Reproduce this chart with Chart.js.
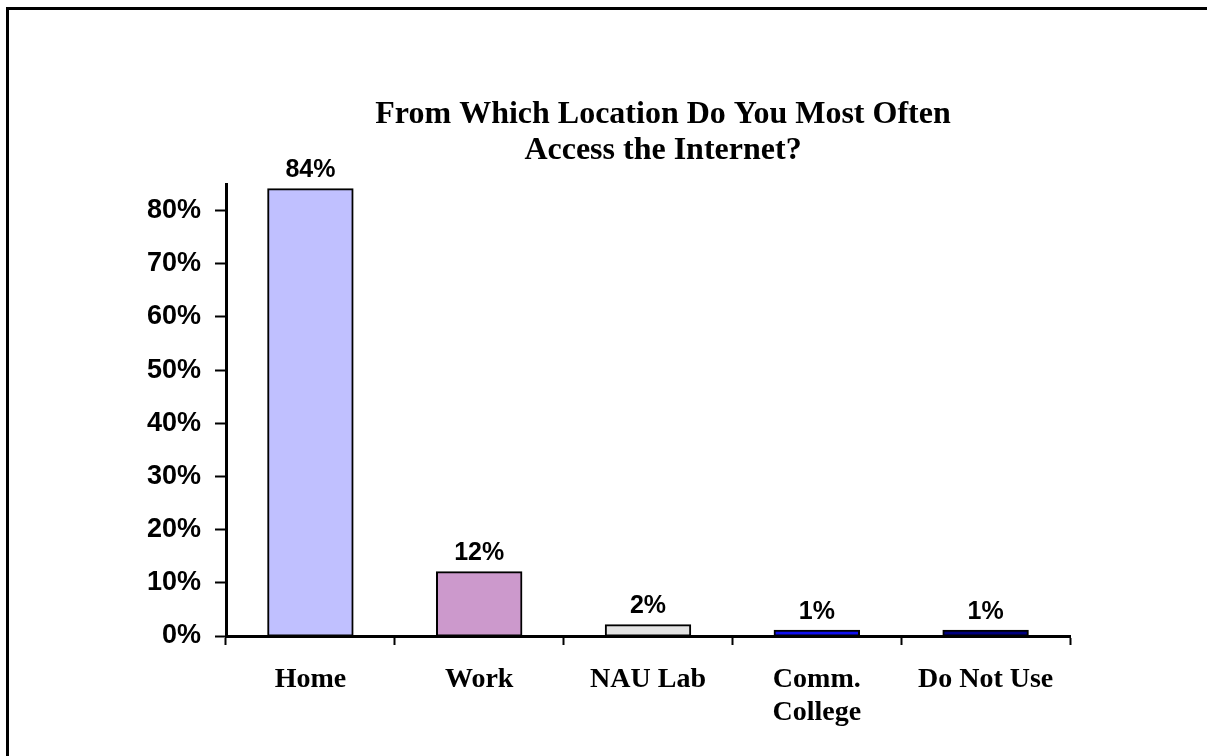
<!DOCTYPE html>
<html>
<head>
<meta charset="utf-8">
<script src="https://cdn.jsdelivr.net/npm/chart.js@4.4.1/dist/chart.umd.min.js"></script>
<style>
  html, body { margin: 0; padding: 0; background: #fff; overflow: hidden; }
  #frame { position: absolute; left: 6px; top: 7px; width: 1400px; height: 1000px; border-left: 3px solid #000; border-top: 3px solid #000; }
  #wrap { position: absolute; left: 0; top: 0; width: 1207px; height: 756px; }
</style>
</head>
<body>
<div id="frame"></div>
<div id="wrap"><canvas id="c" width="1207" height="756"></canvas></div>
<script>
const titleLines = ['From Which Location Do You Most Often', 'Access the Internet?'];
const categories = ['Home', 'Work', 'NAU Lab', ['Comm.', 'College'], 'Do Not Use'];
const values = [84, 12, 2, 1, 1];
const barColors = ['#C0C0FF', '#CC99CC', '#E3E3E3', '#1010F0', '#000080'];
const yTickValues = [0, 10, 20, 30, 40, 50, 60, 70, 80];
const yMax = 85;

const titlePlugin = {
  id: 'titlePlugin',
  afterDraw(chart) {
    const ctx = chart.ctx;
    ctx.save();
    ctx.fillStyle = '#000';
    ctx.font = 'bold 32px "Liberation Serif", "Times New Roman", serif';
    ctx.textAlign = 'center';
    ctx.textBaseline = 'alphabetic';
    const cx = chart.chartArea.left + (chart.chartArea.right - chart.chartArea.left) / 2 + 15;
    titleLines.forEach((t, i) => ctx.fillText(t, cx, 123 + i * 36));
    ctx.restore();
  }
};

const labelPlugin = {
  id: 'labelPlugin',
  afterDatasetsDraw(chart) {
    const ctx = chart.ctx;
    const meta = chart.getDatasetMeta(0);
    ctx.save();
    ctx.fillStyle = '#000';
    ctx.font = 'bold 25px "Liberation Sans", Arial, sans-serif';
    ctx.textAlign = 'center';
    ctx.textBaseline = 'alphabetic';
    meta.data.forEach((bar, i) => {
      ctx.fillText(values[i] + '%', bar.x, bar.y - 12);
    });
    ctx.restore();
  }
};

new Chart(document.getElementById('c'), {
  type: 'bar',
  data: {
    labels: categories,
    datasets: [{
      data: values,
      backgroundColor: barColors,
      borderColor: '#000',
      borderWidth: 2,
      inflateAmount: 1,
      borderSkipped: false,
      barPercentage: 0.5,
      categoryPercentage: 1.0
    }]
  },
  options: {
    responsive: false,
    animation: false,
    events: [],
    layout: { padding: { top: 184, right: 137, bottom: 0, left: 0 } },
    plugins: { legend: { display: false }, title: { display: false }, tooltip: { enabled: false } },
    scales: {
      x: {
        offset: true,
        grid: { display: true, offset: true, drawOnChartArea: false, drawTicks: true, tickLength: 9, tickWidth: 2, tickColor: '#000' },
        border: { display: true, color: '#000', width: 3 },
        ticks: {
          color: '#000',
          padding: 18,
          maxRotation: 0,
          autoSkip: false,
          font: { family: '"Liberation Serif", "Times New Roman", serif', size: 28, weight: 'bold', lineHeight: 1.18 }
        },
        afterFit(scale) { scale.height = 120; }
      },
      y: {
        min: 0,
        max: yMax,
        grid: { display: true, drawOnChartArea: false, drawTicks: true, tickLength: 11, tickWidth: 2, tickColor: '#000' },
        border: { display: true, color: '#000', width: 3 },
        afterBuildTicks(scale) { scale.ticks = yTickValues.map(v => ({ value: v })); },
        ticks: {
          color: '#000',
          padding: 14,
          callback: v => v + '%',
          font: { family: '"Liberation Sans", Arial, sans-serif', size: 27, weight: 'bold' }
        },
        afterFit(scale) { scale.width = 226; }
      }
    }
  },
  plugins: [titlePlugin, labelPlugin]
});
</script>
</body>
</html>
